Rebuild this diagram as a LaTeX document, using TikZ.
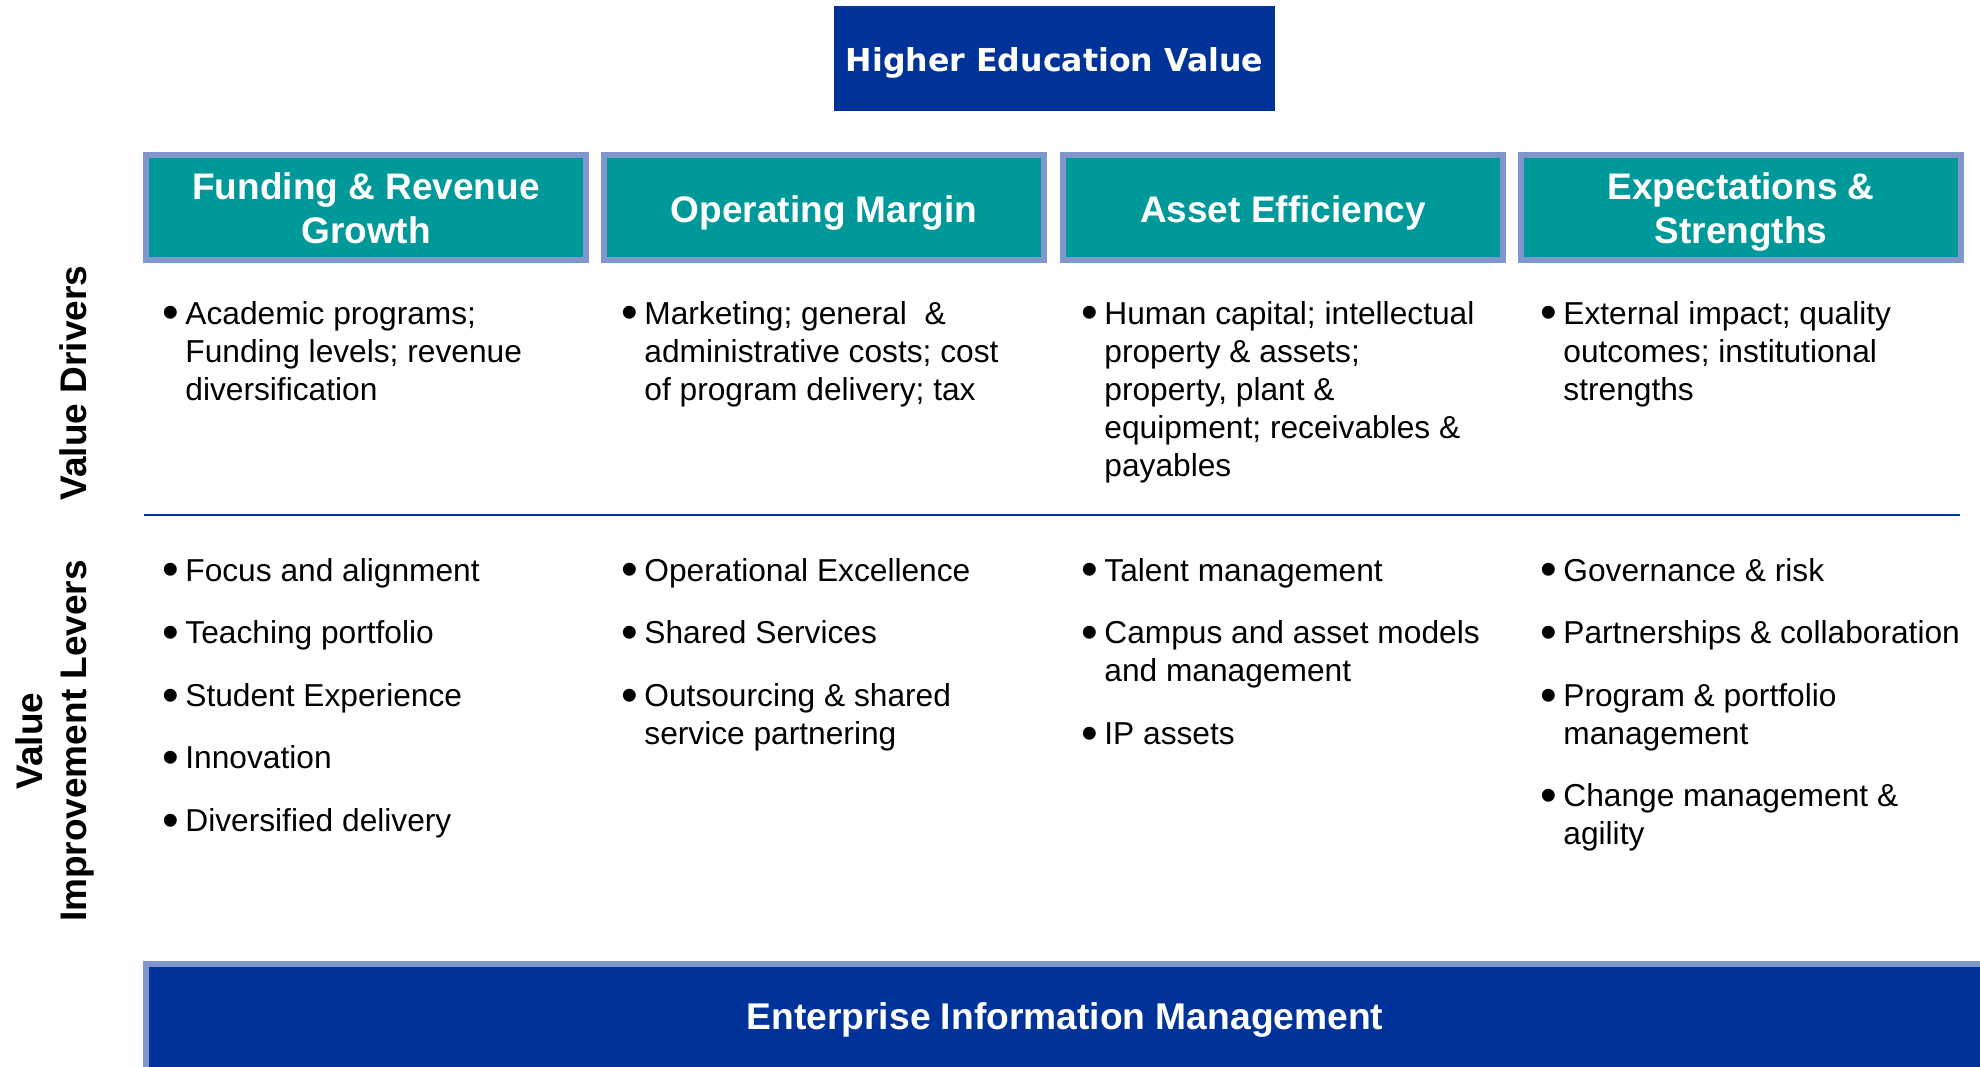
\documentclass[tikz,border=0pt]{standalone}
\usepackage{graphicx}
\usepackage{fontspec}
\setmainfont{Liberation Sans}
\newfontfamily\titlefont{DejaVu Sans}
\definecolor{hedblue}{HTML}{003399}
\definecolor{hedteal}{HTML}{009999}
\definecolor{hedborder}{HTML}{7F97CC}
\newcommand\bigbullet{\raisebox{-2.45pt}{\scalebox{1.5}{\textbullet}}}
\newcommand\bitem[1]{\par\noindent\hangindent=11.5pt\hangafter=1\makebox[11.5pt][l]{\bigbullet}#1}
\newcommand\colbody[1]{\parbox[t]{250pt}{\raggedright\setlength{\parskip}{12.3pt}#1}}
\begin{document}
\begin{tikzpicture}[x=0.5pt,y=-0.5pt,
  hdrbox/.style={inner sep=0pt, outer sep=0pt, fill=hedteal, draw=hedborder, line width=3pt, minimum width=220pt, minimum height=52.5pt},
  hdrtext/.style={text=white, font=\bfseries\fontsize{18.5}{22}\selectfont, inner sep=0pt, anchor=base},
  body/.style={inner sep=0pt, anchor=base west, font=\fontsize{15.85}{19}\selectfont},
  side/.style={font=\bfseries\fontsize{18.5}{22}\selectfont, inner sep=0pt, rotate=90, anchor=base}
]
\useasboundingbox (0,0) rectangle (1980,1066);
\clip (0,0) rectangle (1980,1066);

% title
\node[inner sep=0pt, fill=hedblue, minimum width=220.5pt, minimum height=52.5pt] (top) at (1054.5,58.5) {};
\node[anchor=base, inner sep=0pt, text=white, font=\titlefont\bfseries\fontsize{15.8}{19}\selectfont] (ttl) at (1054.5,71) {Higher Education Value};

% header boxes
\node[hdrbox] (h1) at (366,207.5) {};
\node[hdrbox] (h2) at (824,207.5) {};
\node[hdrbox] (h3) at (1283,207.5) {};
\node[hdrbox] (h4) at (1741,207.5) {};
\node[hdrtext] (t1) at (366,199) {\parbox[t]{215pt}{\centering Funding \& Revenue\\Growth}};
\node[hdrtext] (t2) at (824,222) {Operating Margin};
\node[hdrtext] (t3) at (1283,222) {Asset Efficiency};
\node[hdrtext] (t4) at (1741,199) {\parbox[t]{215pt}{\centering Expectations \&\\Strengths}};

% side labels
\node[side] (vd) at (86,383) {Value Drivers};
\node[side] (vil) at (42,741) {\parbox[t]{220pt}{\centering Value\\Improvement Levers}};

% value drivers
\node[body] (d1) at (162,324) {\colbody{\bitem{Academic programs;\newline Funding levels; revenue\newline diversification}}};
\node[body] (d2) at (621,324) {\colbody{\bitem{Marketing; general\ \ \&\newline administrative costs; cost\newline of program delivery; tax}}};
\node[body] (d3) at (1081,324) {\colbody{\bitem{Human capital; intellectual\newline property \& assets;\newline property, plant \&\newline equipment; receivables \&\newline payables}}};
\node[body] (d4) at (1540,324) {\colbody{\bitem{External impact; quality\newline outcomes; institutional\newline strengths}}};

% separator
\draw[hedblue, line width=1pt] (144,515) -- (1960,515);

% levers
\node[body] (l1) at (162,581) {\colbody{\bitem{Focus and alignment}\bitem{Teaching portfolio}\bitem{Student Experience}\bitem{Innovation}\bitem{Diversified delivery}}};
\node[body] (l2) at (621,581) {\colbody{\bitem{Operational Excellence}\bitem{Shared Services}\bitem{Outsourcing \& shared\newline service partnering}}};
\node[body] (l3) at (1081,581) {\colbody{\bitem{Talent management}\bitem{Campus and asset models\newline and management}\bitem{IP assets}}};
\node[body] (l4) at (1540,581) {\colbody{\bitem{Governance \& risk}\bitem{Partnerships \& collaboration}\bitem{Program \& portfolio\newline management}\bitem{Change management \&\newline agility}}};

% bottom bar
\node[inner sep=0pt, outer sep=0pt, anchor=north west, fill=hedblue, draw=hedborder, line width=3pt, minimum width=935pt, minimum height=70pt] (eim) at (146,964) {};
\node[hdrtext, font=\bfseries\fontsize{18.6}{22}\selectfont] (eimt) at (1065,1029) {Enterprise Information Management};
\end{tikzpicture}
\end{document}
